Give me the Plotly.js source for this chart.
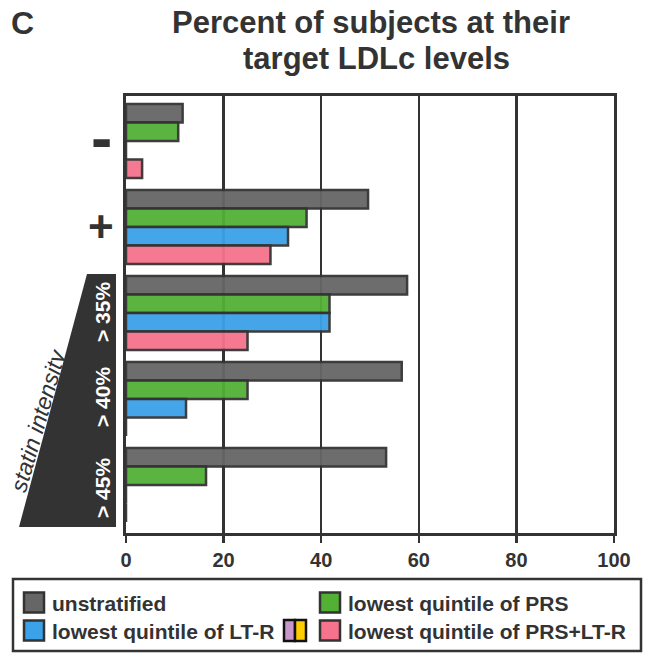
<!DOCTYPE html>
<html>
<head>
<meta charset="utf-8">
<script src="https://cdn.plot.ly/plotly-3.0.1.min.js"></script>
<style>html,body{margin:0;padding:0;background:#fff;}#chart{width:648px;height:655px;}</style>
</head>
<body>
<div id="chart"></div>
<script>
// ---- data ----
var groups = ["-", "+", "> 35%", "> 40%", "> 45%"];
var seriesNames = ["unstratified", "lowest quintile of PRS", "lowest quintile of LT-R", "lowest quintile of PRS+LT-R"];
var unstratified = [11.6, 49.6, 57.6, 56.5, 53.3];
var lowPRS       = [10.7, 37.0, 41.7, 24.9, 16.4];
var lowLTR       = [0,    33.2, 41.7, 12.3, 0];
var lowPRSLTR    = [3.3,  29.6, 24.9, 0,    0];
var xTicks = [0, 20, 40, 60, 80, 100];
var titleLines = ["Percent of subjects at their", "target LDLc levels"];
var panelLabel = "C";
var sideLabel = "statin intensity";

var colors = ["#666666", "#52B035", "#3BA1E8", "#F5738C"];
var dark = "#333333";
var FONT = "Arial, 'Liberation Sans', sans-serif";

// geometry helpers (pixel -> paper)
var L = 126, R = 34, T = 96, B = 122, W = 648, H = 655;
var PW = W - L - R, PH = H - T - B;
function X(px) { return (px - L) / PW; }
function Y(py) { return (H - B - py) / PH; }

var yIdx = groups.map(function (g, i) { return i; });
var allSeries = [unstratified, lowPRS, lowLTR, lowPRSLTR];
var traces = allSeries.map(function (vals, k) {
  return {
    type: "bar", orientation: "h",
    x: vals, y: yIdx, name: seriesNames[k],
    marker: { color: colors[k], opacity: 0.95, line: { color: dark, width: 2.5 } },
    showlegend: false, hoverinfo: "x+name"
  };
});

var shapes = [];
var annotations = [];

// triangle for statin intensity
shapes.push({
  type: "path", xref: "paper", yref: "paper",
  path: "M" + X(87) + "," + Y(274) + " L" + X(116) + "," + Y(274) + " L" + X(116) + "," + Y(527) + " L" + X(19) + "," + Y(527) + " Z",
  fillcolor: dark, line: { width: 0 }, layer: "above"
});

// y labels "-" and "+"
annotations.push({ xref: "paper", yref: "y", x: X(101), y: 0, text: "<b>" + groups[0] + "</b>", showarrow: false,
  font: { family: FONT, size: 64, color: dark }, xanchor: "center", yanchor: "middle", yshift: 3 });
annotations.push({ xref: "paper", yref: "y", x: X(100.5), y: 1, text: "<b>" + groups[1] + "</b>", showarrow: false,
  font: { family: FONT, size: 44, color: dark }, xanchor: "center", yanchor: "middle", yshift: 0 });
// rotated labels in triangle
var triY = [312, 397, 488];
for (var i = 2; i < 5; i++) {
  annotations.push({ xref: "paper", yref: "paper", x: X(102), y: Y(triY[i - 2]), text: "<b>" + groups[i] + "</b>",
    showarrow: false, textangle: -90, font: { family: FONT, size: 21, color: "#ffffff" },
    xanchor: "center", yanchor: "middle" });
}
annotations.push({ xref: "paper", yref: "paper", x: X(38), y: Y(421), text: "<i>" + sideLabel + "</i>",
  showarrow: false, textangle: -74, font: { family: FONT, size: 23, color: dark },
  xanchor: "center", yanchor: "middle" });

// title and panel label
annotations.push({ xref: "paper", yref: "paper", x: X(371), y: Y(23), text: "<b>" + titleLines[0] + "</b>", showarrow: false,
  font: { family: FONT, size: 31, color: dark }, xanchor: "center", yanchor: "middle" });
annotations.push({ xref: "paper", yref: "paper", x: X(376), y: Y(58), text: "<b>" + titleLines[1] + "</b>", showarrow: false,
  font: { family: FONT, size: 31, color: dark }, xanchor: "center", yanchor: "middle" });
annotations.push({ xref: "paper", yref: "paper", x: X(22), y: Y(23), text: "<b>" + panelLabel + "</b>", showarrow: false,
  font: { family: FONT, size: 32, color: dark }, xanchor: "center", yanchor: "middle" });

// legend box
shapes.push({ type: "rect", xref: "paper", yref: "paper", x0: X(13), x1: X(641), y0: Y(651), y1: Y(579),
  line: { color: dark, width: 2.5 }, fillcolor: "#ffffff" });
var legPos = [[24, 602.5], [320, 602.5], [24, 630.5], [320, 630.5]];
var legOrder = [0, 1, 2, 3];
legOrder.forEach(function (k, j) {
  var px = legPos[j][0], py = legPos[j][1];
  shapes.push({ type: "rect", xref: "paper", yref: "paper", x0: X(px), x1: X(px + 20), y0: Y(py + 10), y1: Y(py - 10),
    fillcolor: colors[k], line: { color: dark, width: 2.5 } });
  annotations.push({ xref: "paper", yref: "paper", x: X(px + 26), y: Y(py + 1), text: "<b>" + seriesNames[k] + "</b>",
    showarrow: false, font: { family: FONT, size: 21, color: dark }, xanchor: "left", yanchor: "middle" });
});
// small purple/yellow icon
shapes.push({ type: "rect", xref: "paper", yref: "paper", x0: X(284), x1: X(295), y0: Y(641), y1: Y(620),
  fillcolor: "#C996CC", line: { color: "#111111", width: 2.5 } });
shapes.push({ type: "rect", xref: "paper", yref: "paper", x0: X(295), x1: X(306), y0: Y(641), y1: Y(620),
  fillcolor: "#FFCC00", line: { color: "#111111", width: 2.5 } });

var layout = {
  width: W, height: H,
  margin: { l: L, r: R, t: T, b: B, pad: 0 },
  paper_bgcolor: "#ffffff", plot_bgcolor: "#ffffff",
  barmode: "group", bargap: 0.14, bargroupgap: 0,
  showlegend: false,
  xaxis: {
    range: [0, 100], tickvals: xTicks, ticktext: xTicks.map(String),
    showgrid: true, gridcolor: dark, gridwidth: 2.5,
    showline: true, linecolor: dark, linewidth: 3, mirror: true,
    ticks: "outside", ticklen: 7, tickwidth: 2.5, tickcolor: dark,
    tickfont: { family: FONT, size: 20, color: dark, weight: "bold" },
    zeroline: false, fixedrange: true
  },
  yaxis: {
    range: [4.558, -0.523], showticklabels: false, ticks: "",
    showgrid: false, zeroline: false,
    showline: true, linecolor: dark, linewidth: 3, mirror: true, fixedrange: true
  },
  shapes: shapes,
  annotations: annotations
};

Plotly.newPlot("chart", traces, layout, { displayModeBar: false, staticPlot: true });
</script>
</body>
</html>
